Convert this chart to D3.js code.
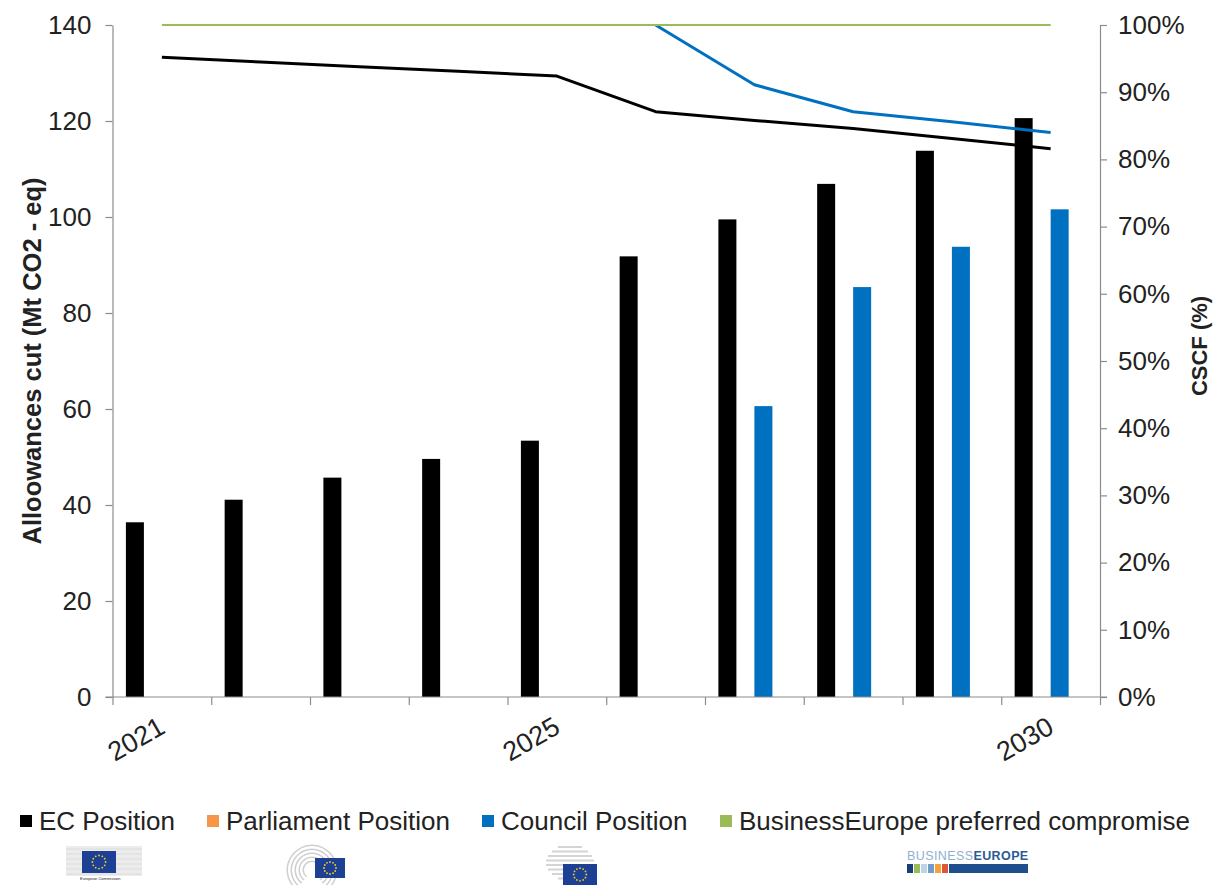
<!DOCTYPE html>
<html><head><meta charset="utf-8">
<script src="https://cdn.jsdelivr.net/npm/d3@7"></script>
<style>
body{margin:0;background:#fff}
svg{display:block}
text{font-family:"Liberation Sans",Arial,Helvetica,sans-serif;fill:#222}
</style>
</head><body>
<svg id="chart" width="1215" height="885"></svg>
<script>
// ---------------- DATA ----------------
const years = ["2021","2022","2023","2024","2025","2026","2027","2028","2029","2030"];
const seriesNames = ["EC Position","Parliament Position","Council Position","BusinessEurope preferred compromise"];
const seriesColors = ["#000000","#F79646","#0070C0","#9BBB59"];
// Allowances cut (Mt CO2-eq), bars, left axis
const ecCut         = [36.4, 41.1, 45.7, 49.6, 53.4, 91.8, 99.5, 106.9, 113.8, 120.6];
const parliamentCut = [null,null,null,null,null,null,null,null,null,null];
const councilCut    = [null,null,null,null,null,null,60.6, 85.4, 93.8, 101.6];
const businessCut   = [null,null,null,null,null,null,null,null,null,null];
// CSCF (%), lines, right axis
const ecCSCF         = [95.2, 94.5, 93.8, 93.1, 92.4, 87.1, 85.8, 84.6, 83.1, 81.6];
const parliamentCSCF = [null,null,null,null,null,null,null,null,null,null];
const councilCSCF    = [null,null,null,null,null,100, 91.1, 87.1, 85.6, 84.0];
const businessCSCF   = [100,100,100,100,100,100,100,100,100,100];
const leftTicks  = [0,20,40,60,80,100,120,140];
const rightTicks = [0,10,20,30,40,50,60,70,80,90,100];
const yearLabels = ["2021","2025","2030"];
const leftTitle  = "Alloowances cut (Mt CO2 - eq)";
const rightTitle = "CSCF (%)";

const cutSeries  = [ecCut, parliamentCut, councilCut, businessCut];
const cscfSeries = [ecCSCF, parliamentCSCF, councilCSCF, businessCSCF];

// ---------------- LAYOUT ----------------
const W = 1215, H = 885;
const P = {left:112.5, right:1100, top:25, bottom:697};
const svg = d3.select("#chart");
svg.append("rect").attr("width",W).attr("height",H).attr("fill","#fff");

const x0 = d3.scaleBand().domain(years).range([P.left,P.right]).padding(0);
const bw = x0.bandwidth();
const x1 = d3.scaleBand().domain(seriesNames).range([bw*0.1357, bw*0.8648]).padding(0);
const xIdx = d3.scaleLinear().domain([0,years.length]).range([P.left,P.right]);
const yL = d3.scaleLinear().domain([0,140]).range([P.bottom,P.top]);
const yR = d3.scaleLinear().domain([0,100]).range([P.bottom,P.top]);

const axisColor = "#8c8c8c";
const fs = 26;

// ---------------- BARS ----------------
const gBars = svg.append("g");
cutSeries.forEach((vals,si)=>{
  gBars.selectAll(null).data(vals.map((v,i)=>({v,year:years[i]})).filter(d=>d.v!=null))
    .join("rect")
    .attr("x",d=>x0(d.year)+x1(seriesNames[si]))
    .attr("width",x1.bandwidth())
    .attr("y",d=>yL(d.v))
    .attr("height",d=>yL(0)-yL(d.v))
    .attr("fill",seriesColors[si]);
});

// ---------------- AXES ----------------
const gLeft = svg.append("g").attr("transform",`translate(${P.left},0)`)
  .call(d3.axisLeft(yL).tickValues(leftTicks).tickSize(7).tickSizeOuter(0).tickPadding(14));
const gRight = svg.append("g").attr("transform",`translate(${P.right},0)`)
  .call(d3.axisRight(yR).tickValues(rightTicks).tickSize(7).tickSizeOuter(0).tickPadding(11).tickFormat(d=>d+"%"));
const gBottom = svg.append("g").attr("transform",`translate(0,${P.bottom})`)
  .call(d3.axisBottom(xIdx).tickValues(d3.range(years.length+1)).tickSize(8).tickSizeOuter(0).tickFormat(""));
[gLeft,gRight,gBottom].forEach(g=>{
  g.selectAll("path.domain").attr("stroke",axisColor).attr("stroke-width",1.2);
  g.selectAll(".tick line").attr("stroke",axisColor).attr("stroke-width",1.2);
  g.selectAll(".tick text").attr("font-size",fs).attr("fill","#222")
    .style("font-family",'"Liberation Sans",Arial,sans-serif');
});
gBottom.select("path.domain").remove();
svg.append("line").attr("x1",P.left-7).attr("x2",P.right+7)
  .attr("y1",P.bottom).attr("y2",P.bottom).attr("stroke",axisColor).attr("stroke-width",1.2);

// year labels
svg.append("g").selectAll("text").data(yearLabels).join("text")
  .attr("transform",d=>`translate(${x0(d)+bw/2+5},${P.bottom+35}) rotate(-30)`)
  .attr("text-anchor","end").attr("font-size",27).text(d=>d);

// axis titles
svg.append("text").attr("transform",`translate(41,${(P.top+P.bottom)/2}) rotate(-90)`)
  .attr("text-anchor","middle").attr("font-size",25.5).attr("font-weight","bold").text(leftTitle);
svg.append("text").attr("transform",`translate(1207,${(P.top+P.bottom)/2-15}) rotate(-90)`)
  .attr("text-anchor","middle").attr("font-size",22).attr("font-weight","bold").text(rightTitle);

// ---------------- LINES ----------------
const lineWidths = [3, 3, 3, 2];
cscfSeries.forEach((vals,si)=>{
  const line = d3.line()
    .defined(d=>d.v!=null)
    .x(d=>x0(d.year)+bw/2)
    .y(d=>yR(d.v));
  svg.append("path")
    .datum(vals.map((v,i)=>({v,year:years[i]})))
    .attr("d",line).attr("fill","none")
    .attr("stroke",seriesColors[si]).attr("stroke-width",lineWidths[si])
    .attr("stroke-linejoin","round");
});

// ---------------- LEGEND ----------------
const legendX = [20, 207, 482, 720];
const legendY = 821;
const gLeg = svg.append("g");
seriesNames.forEach((n,i)=>{
  gLeg.append("rect").attr("x",legendX[i]).attr("y",legendY-6).attr("width",12).attr("height",12)
    .attr("fill",seriesColors[i]);
  gLeg.append("text").attr("x",legendX[i]+19).attr("y",legendY+9).attr("font-size",26).text(n);
});

// ---------------- LOGOS (simplified) ----------------
function flag(g,x,y,w,h){
  g.append("rect").attr("x",x).attr("y",y).attr("width",w).attr("height",h).attr("fill","#1d3f94");
  const cx=x+w/2, cy=y+h/2, r=Math.min(w,h)*0.3;
  d3.range(12).forEach(k=>{
    const a=k/12*2*Math.PI;
    g.append("circle").attr("cx",cx+r*Math.cos(a)).attr("cy",cy+r*Math.sin(a)).attr("r",0.9).attr("fill","#f2d21b");
  });
}
const gLogo = svg.append("g");
// European Commission
gLogo.append("rect").attr("x",66).attr("y",846).attr("width",76).attr("height",30).attr("fill","#ececec");
d3.range(6).forEach(k=>gLogo.append("line").attr("x1",66).attr("x2",142).attr("y1",849+k*5).attr("y2",849+k*5).attr("stroke","#dcdcdc"));
flag(gLogo,82,851,34,22);
gLogo.append("text").attr("x",80).attr("y",880).attr("font-size",4).attr("fill","#666").text("European Commission");
// Parliament
d3.range(5).forEach(k=>{
  gLogo.append("path").attr("d",d3.arc()({innerRadius:8+k*4,outerRadius:9.5+k*4,startAngle:-Math.PI/2-0.9,endAngle:Math.PI/2+0.9}))
    .attr("transform","translate(312,870)").attr("fill","#cfcfcf");
});
flag(gLogo,315,858,30,20);
// Council
d3.range(8).forEach(k=>{
  const half=[12,18,22,24,24,22,18,12][k];
  gLogo.append("rect").attr("x",570-half).attr("y",846+k*4.5).attr("width",half*2).attr("height",2).attr("fill","#d4d4d4");
});
flag(gLogo,563,864,34,21);
// BusinessEurope
const be = gLogo.append("text").attr("x",907).attr("y",860).attr("font-size",12.5).attr("letter-spacing",0.4);
be.append("tspan").attr("fill","#8fb0d2").text("BUSINESS");
be.append("tspan").attr("fill","#2a5a97").attr("font-weight","bold").text("EUROPE");
const beCols=["#173f7a","#9bbb59","#bcd4ea","#6d9dc8","#f7a13a","#d9573a"];
beCols.forEach((c,k)=>gLogo.append("rect").attr("x",907+k*7).attr("y",864).attr("width",6).attr("height",9).attr("fill",c));
gLogo.append("rect").attr("x",949).attr("y",864).attr("width",79).attr("height",9).attr("fill","#1f4e8c");
</script>
</body></html>
